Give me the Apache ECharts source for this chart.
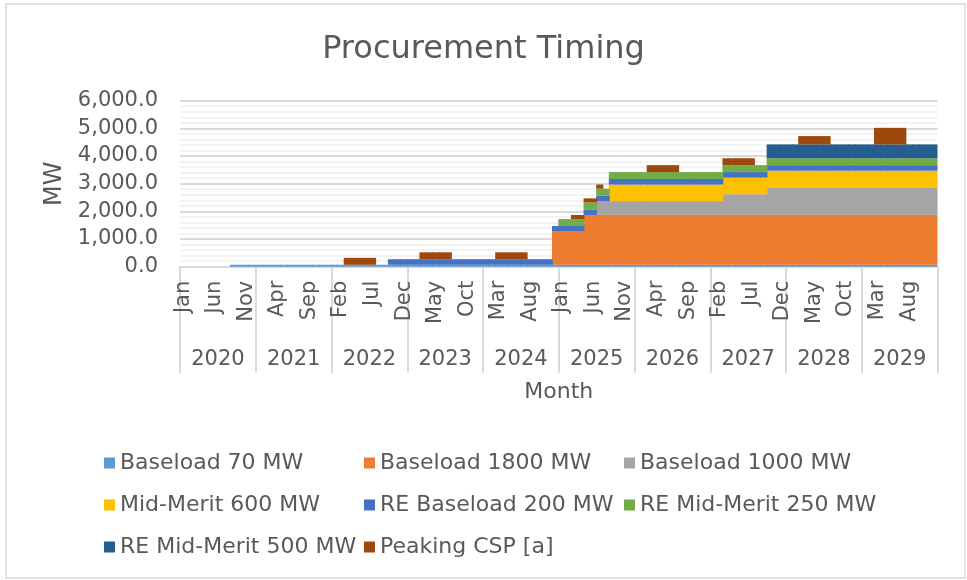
<!DOCTYPE html>
<html>
<head>
<meta charset="utf-8">
<script src="https://cdn.jsdelivr.net/npm/echarts@6/dist/echarts.min.js"></script>
<style>
    html, body { margin: 0; padding: 0; background: #fff; }
    #main { width: 967px; height: 580px; }
</style>
</head>
<body>
<div id="main"></div>
<script>
// month + year labels
const monthNames = ['Jan', 'Feb', 'Mar', 'Apr', 'May', 'Jun', 'Jul', 'Aug', 'Sep', 'Oct', 'Nov', 'Dec'];
const years = ['2020', '2021', '2022', '2023', '2024', '2025', '2026', '2027', '2028', '2029'];
const yTicks = [0, 1000, 2000, 3000, 4000, 5000, 6000];

// MW per month, one row per year (Jan..Dec)
const baseload70 = [
    0, 0, 0, 0, 0, 0, 0, 0, 70, 70, 70, 70,
    70, 70, 70, 70, 70, 70, 70, 70, 70, 70, 70, 70,
    70, 70, 70, 70, 70, 70, 70, 70, 70, 70, 70, 70,
    70, 70, 70, 70, 70, 70, 70, 70, 70, 70, 70, 70,
    70, 70, 70, 70, 70, 70, 70, 70, 70, 70, 70, 70,
    70, 70, 70, 70, 70, 70, 70, 70, 70, 70, 70, 70,
    70, 70, 70, 70, 70, 70, 70, 70, 70, 70, 70, 70,
    70, 70, 70, 70, 70, 70, 70, 70, 70, 70, 70, 70,
    70, 70, 70, 70, 70, 70, 70, 70, 70, 70, 70, 70,
    70, 70, 70, 70, 70, 70, 70, 70, 70, 70, 70, 70
];
const baseload1800 = [
    0, 0, 0, 0, 0, 0, 0, 0, 0, 0, 0, 0,
    0, 0, 0, 0, 0, 0, 0, 0, 0, 0, 0, 0,
    0, 0, 0, 0, 0, 0, 0, 0, 0, 0, 0, 0,
    0, 0, 0, 0, 0, 0, 0, 0, 0, 0, 0, 0,
    0, 0, 0, 0, 0, 0, 0, 0, 0, 0, 0, 1200,
    1200, 1200, 1200, 1200, 1800, 1800, 1800, 1800, 1800, 1800, 1800, 1800,
    1800, 1800, 1800, 1800, 1800, 1800, 1800, 1800, 1800, 1800, 1800, 1800,
    1800, 1800, 1800, 1800, 1800, 1800, 1800, 1800, 1800, 1800, 1800, 1800,
    1800, 1800, 1800, 1800, 1800, 1800, 1800, 1800, 1800, 1800, 1800, 1800,
    1800, 1800, 1800, 1800, 1800, 1800, 1800, 1800, 1800, 1800, 1800, 1800
];
const baseload1000 = [
    0, 0, 0, 0, 0, 0, 0, 0, 0, 0, 0, 0,
    0, 0, 0, 0, 0, 0, 0, 0, 0, 0, 0, 0,
    0, 0, 0, 0, 0, 0, 0, 0, 0, 0, 0, 0,
    0, 0, 0, 0, 0, 0, 0, 0, 0, 0, 0, 0,
    0, 0, 0, 0, 0, 0, 0, 0, 0, 0, 0, 0,
    0, 0, 0, 0, 0, 0, 500, 500, 500, 500, 500, 500,
    500, 500, 500, 500, 500, 500, 500, 500, 500, 500, 500, 500,
    500, 500, 750, 750, 750, 750, 750, 750, 750, 1000, 1000, 1000,
    1000, 1000, 1000, 1000, 1000, 1000, 1000, 1000, 1000, 1000, 1000, 1000,
    1000, 1000, 1000, 1000, 1000, 1000, 1000, 1000, 1000, 1000, 1000, 1000
];
const midMerit600 = [
    0, 0, 0, 0, 0, 0, 0, 0, 0, 0, 0, 0,
    0, 0, 0, 0, 0, 0, 0, 0, 0, 0, 0, 0,
    0, 0, 0, 0, 0, 0, 0, 0, 0, 0, 0, 0,
    0, 0, 0, 0, 0, 0, 0, 0, 0, 0, 0, 0,
    0, 0, 0, 0, 0, 0, 0, 0, 0, 0, 0, 0,
    0, 0, 0, 0, 0, 0, 0, 0, 600, 600, 600, 600,
    600, 600, 600, 600, 600, 600, 600, 600, 600, 600, 600, 600,
    600, 600, 600, 600, 600, 600, 600, 600, 600, 600, 600, 600,
    600, 600, 600, 600, 600, 600, 600, 600, 600, 600, 600, 600,
    600, 600, 600, 600, 600, 600, 600, 600, 600, 600, 600, 600
];
const reBaseload200 = [
    0, 0, 0, 0, 0, 0, 0, 0, 0, 0, 0, 0,
    0, 0, 0, 0, 0, 0, 0, 0, 0, 0, 0, 0,
    0, 0, 0, 0, 0, 0, 0, 0, 0, 200, 200, 200,
    200, 200, 200, 200, 200, 200, 200, 200, 200, 200, 200, 200,
    200, 200, 200, 200, 200, 200, 200, 200, 200, 200, 200, 200,
    200, 200, 200, 200, 200, 200, 200, 200, 200, 200, 200, 200,
    200, 200, 200, 200, 200, 200, 200, 200, 200, 200, 200, 200,
    200, 200, 200, 200, 200, 200, 200, 200, 200, 200, 200, 200,
    200, 200, 200, 200, 200, 200, 200, 200, 200, 200, 200, 200,
    200, 200, 200, 200, 200, 200, 200, 200, 200, 200, 200, 200
];
const reMidMerit250 = [
    0, 0, 0, 0, 0, 0, 0, 0, 0, 0, 0, 0,
    0, 0, 0, 0, 0, 0, 0, 0, 0, 0, 0, 0,
    0, 0, 0, 0, 0, 0, 0, 0, 0, 0, 0, 0,
    0, 0, 0, 0, 0, 0, 0, 0, 0, 0, 0, 0,
    0, 0, 0, 0, 0, 0, 0, 0, 0, 0, 0, 0,
    250, 250, 250, 250, 250, 250, 250, 250, 250, 250, 250, 250,
    250, 250, 250, 250, 250, 250, 250, 250, 250, 250, 250, 250,
    250, 250, 250, 250, 250, 250, 250, 250, 250, 250, 250, 250,
    250, 250, 250, 250, 250, 250, 250, 250, 250, 250, 250, 250,
    250, 250, 250, 250, 250, 250, 250, 250, 250, 250, 250, 250
];
const reMidMerit500 = [
    0, 0, 0, 0, 0, 0, 0, 0, 0, 0, 0, 0,
    0, 0, 0, 0, 0, 0, 0, 0, 0, 0, 0, 0,
    0, 0, 0, 0, 0, 0, 0, 0, 0, 0, 0, 0,
    0, 0, 0, 0, 0, 0, 0, 0, 0, 0, 0, 0,
    0, 0, 0, 0, 0, 0, 0, 0, 0, 0, 0, 0,
    0, 0, 0, 0, 0, 0, 0, 0, 0, 0, 0, 0,
    0, 0, 0, 0, 0, 0, 0, 0, 0, 0, 0, 0,
    0, 0, 0, 0, 0, 0, 0, 0, 0, 500, 500, 500,
    500, 500, 500, 500, 500, 500, 500, 500, 500, 500, 500, 500,
    500, 500, 500, 500, 500, 500, 500, 500, 500, 500, 500, 500
];
const peakingCSP = [
    0, 0, 0, 0, 0, 0, 0, 0, 0, 0, 0, 0,
    0, 0, 0, 0, 0, 0, 0, 0, 0, 0, 0, 0,
    0, 0, 250, 250, 250, 250, 250, 0, 0, 0, 0, 0,
    0, 0, 250, 250, 250, 250, 250, 0, 0, 0, 0, 0,
    0, 0, 250, 250, 250, 250, 250, 0, 0, 0, 0, 0,
    0, 0, 150, 150, 150, 150, 150, 0, 0, 0, 0, 0,
    0, 0, 250, 250, 250, 250, 250, 0, 0, 0, 0, 0,
    0, 0, 250, 250, 250, 250, 250, 0, 0, 0, 0, 0,
    0, 0, 300, 300, 300, 300, 300, 0, 0, 0, 0, 0,
    0, 0, 600, 600, 600, 600, 600, 0, 0, 0, 0, 0
];

const seriesNames = ['Baseload 70 MW', 'Baseload 1800 MW', 'Baseload 1000 MW', 'Mid-Merit 600 MW',
    'RE Baseload 200 MW', 'RE Mid-Merit 250 MW', 'RE Mid-Merit 500 MW', 'Peaking CSP [a]'];
const seriesData = [baseload70, baseload1800, baseload1000, midMerit600,
    reBaseload200, reMidMerit250, reMidMerit500, peakingCSP];
const colors = ['#5B9BD5', '#ED7D31', '#A5A5A5', '#FFC000', '#4472C4', '#70AD47', '#255E91', '#9E480E'];

const months = [];
years.forEach(() => monthNames.forEach(m => months.push(m)));

const textColor = '#595959';
const font = 'DejaVu Sans';

const chart = echarts.init(document.getElementById('main'));

const legendCommon = {
    orient: 'vertical',
    icon: 'rect',
    itemWidth: 11,
    itemHeight: 11,
    itemGap: 20,
    top: 447,
    textStyle: { color: textColor, fontSize: 22, fontFamily: font }
};

const option = {
    animation: false,
    color: colors,
    textStyle: { fontFamily: font },
    title: {
        text: 'Procurement Timing',
        left: 'center',
        top: 29,
        textStyle: { color: textColor, fontSize: 32, fontWeight: 'normal', fontFamily: font }
    },
    graphic: [{
        type: 'rect',
        shape: { x: 6, y: 4, width: 959, height: 574 },
        style: { fill: 'none', stroke: '#d9d9d9', lineWidth: 1.5 },
        silent: true
    }],
    legend: [
        Object.assign({ left: 99, data: [seriesNames[0], seriesNames[3], seriesNames[6]] }, legendCommon),
        Object.assign({ left: 359, data: [seriesNames[1], seriesNames[4], seriesNames[7]] }, legendCommon),
        Object.assign({ left: 619, data: [seriesNames[2], seriesNames[5]] }, legendCommon)
    ],
    grid: {
        left: 180,
        right: 29.5,
        top: 100.7,
        bottom: 313.3,
        containLabel: false
    },
    xAxis: [
        {
            type: 'category',
            position: 'bottom',
            data: months,
            axisLine: { lineStyle: { color: '#d9d9d9', width: 2 } },
            axisTick: { show: false },
            axisLabel: {
                interval: 4,
                rotate: 90,
                margin: 14,
                color: textColor,
                fontSize: 21,
                fontFamily: font
            }
        },
        {
            type: 'category',
            position: 'bottom',
            data: years,
            name: 'Month',
            nameLocation: 'middle',
            nameGap: 115,
            nameTextStyle: { color: textColor, fontSize: 22, fontFamily: font },
            axisLine: { show: false },
            axisTick: { show: true, interval: 0, length: 106, lineStyle: { color: '#d9d9d9', width: 2 } },
            axisLabel: {
                interval: 0,
                margin: 82,
                color: textColor,
                fontSize: 21,
                fontFamily: font
            }
        }
    ],
    yAxis: {
        type: 'value',
        min: yTicks[0],
        max: yTicks[yTicks.length - 1],
        interval: 1000,
        name: 'MW',
        nameLocation: 'middle',
        nameGap: 110,
        nameRotate: 90,
        nameTextStyle: { color: textColor, fontSize: 24, fontFamily: font },
        axisLine: { show: false },
        axisTick: { show: false },
        axisLabel: {
            margin: 22,
            color: textColor,
            fontSize: 21,
            fontFamily: font,
            formatter: v => v.toLocaleString('en-US', { minimumFractionDigits: 1, maximumFractionDigits: 1 })
        },
        splitLine: { lineStyle: { color: '#d9d9d9', width: 2 } },
        minorTick: { show: false, splitNumber: 5 },
        minorSplitLine: { show: true, lineStyle: { color: '#efefef', width: 1.5 } }
    },
    // bars a bit wider than the month band so neighbours overlap (no hairline gaps)
    series: seriesNames.map((name, i) => ({
        name: name,
        type: 'bar',
        stack: 'mw',
        xAxisIndex: 0,
        barWidth: 7.2,
        data: seriesData[i].map(v => (v === 0 ? '-' : v)),
        itemStyle: { color: colors[i] }
    }))
};

chart.setOption(option);
</script>
</body>
</html>
